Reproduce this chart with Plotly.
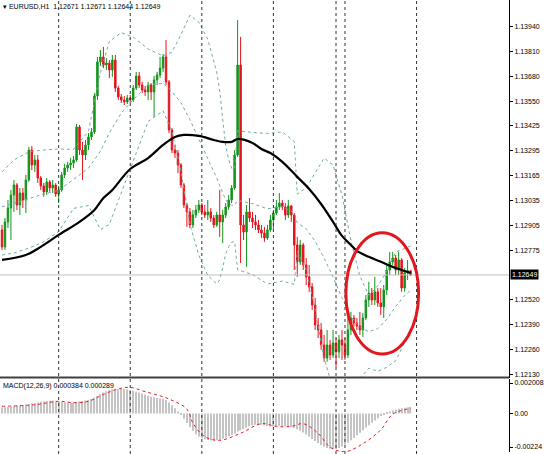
import plotly.graph_objects as go
from plotly.subplots import make_subplots

# ---------------- data (EURUSD H1) ----------------
bar_index = list(range(138))

opens = [1.12883, 1.12795, 1.12925, 1.12997, 1.13065, 1.13117, 1.13013, 1.13075, 1.13039, 1.13143,
         1.13299, 1.13221, 1.13247, 1.13153, 1.13112, 1.13081, 1.13133, 1.13101, 1.13117, 1.13070,
         1.13091, 1.13169, 1.13205, 1.13221, 1.13231, 1.13247, 1.13419, 1.13299, 1.13273, 1.13325,
         1.13367, 1.13393, 1.13580, 1.13757, 1.13783, 1.13741, 1.13751, 1.13715, 1.13767, 1.13621,
         1.13575, 1.13559, 1.13549, 1.13569, 1.13559, 1.13621, 1.13684, 1.13637, 1.13611, 1.13601,
         1.13637, 1.13601, 1.13663, 1.13689, 1.13725, 1.13783, 1.13653, 1.13403, 1.13299, 1.13283,
         1.13221, 1.13117, 1.13013, 1.12977, 1.12909, 1.12961, 1.12987, 1.13013, 1.12977, 1.12961,
         1.12977, 1.12945, 1.12909, 1.12961, 1.12925, 1.12961, 1.13003, 1.13039, 1.13101, 1.13273,
         1.13741, 1.12909, 1.12873, 1.12977, 1.12945, 1.12925, 1.12909, 1.12883, 1.12867, 1.12841,
         1.12883, 1.12935, 1.12971, 1.13003, 1.13023, 1.13003, 1.12961, 1.13008, 1.12961, 1.12805,
         1.12717, 1.12805, 1.12701, 1.12639, 1.12587, 1.12493, 1.12389, 1.12363, 1.12285, 1.12217,
         1.12285, 1.12233, 1.12295, 1.12249, 1.12311, 1.12285, 1.12233, 1.12363, 1.12425, 1.12399,
         1.12384, 1.12363, 1.12425, 1.12519, 1.12555, 1.12519, 1.12561, 1.12503, 1.12483, 1.12571,
         1.12675, 1.12717, 1.12737, 1.12675, 1.12727, 1.12581, 1.12660, 1.12671]

highs = [1.12909, 1.12945, 1.13039, 1.13091, 1.13143, 1.13127, 1.13101, 1.13101, 1.13169, 1.13315,
         1.13320, 1.13273, 1.13273, 1.13164, 1.13127, 1.13153, 1.13143, 1.13143, 1.13127, 1.13112,
         1.13185, 1.13226, 1.13237, 1.13257, 1.13268, 1.13434, 1.13429, 1.13341, 1.13351, 1.13387,
         1.13413, 1.13595, 1.13783, 1.13819, 1.13835, 1.13777, 1.13767, 1.13793, 1.13793, 1.13632,
         1.13590, 1.13580, 1.13585, 1.13585, 1.13637, 1.13705, 1.13705, 1.13653, 1.13632, 1.13653,
         1.13647, 1.13684, 1.13705, 1.13783, 1.13798, 1.13871, 1.13663, 1.13413, 1.13325, 1.13299,
         1.13231, 1.13127, 1.13023, 1.12997, 1.12987, 1.13013, 1.13039, 1.13023, 1.13013, 1.13039,
         1.12997, 1.12961, 1.12977, 1.13091, 1.12987, 1.13023, 1.13065, 1.13117, 1.13299, 1.13975,
         1.13887, 1.12961, 1.13013, 1.13049, 1.12977, 1.12961, 1.12935, 1.12909, 1.12899, 1.12909,
         1.12961, 1.12987, 1.13039, 1.13075, 1.13039, 1.13023, 1.13039, 1.13013, 1.12971, 1.12847,
         1.12831, 1.12815, 1.12737, 1.12701, 1.12607, 1.12529, 1.12425, 1.12399, 1.12337, 1.12363,
         1.12311, 1.12363, 1.12321, 1.12337, 1.12363, 1.12321, 1.12425, 1.12457, 1.12441, 1.12425,
         1.12457, 1.12451, 1.12545, 1.12613, 1.12581, 1.12639, 1.12581, 1.12581, 1.12597, 1.12701,
         1.12769, 1.12769, 1.12753, 1.12769, 1.12737, 1.12685, 1.12727, 1.12671]

lows = [1.12779, 1.12779, 1.12893, 1.12831, 1.12977, 1.12987, 1.12961, 1.12997, 1.12971, 1.13133,
        1.13195, 1.13185, 1.13127, 1.13091, 1.13055, 1.13065, 1.13081, 1.13075, 1.13055, 1.13023,
        1.13081, 1.13153, 1.13185, 1.13195, 1.13205, 1.13237, 1.13273, 1.13143, 1.13247, 1.13299,
        1.13351, 1.13382, 1.13559, 1.13736, 1.13725, 1.13715, 1.13673, 1.13679, 1.13601, 1.13559,
        1.13543, 1.13533, 1.13538, 1.13543, 1.13549, 1.13611, 1.13621, 1.13595, 1.13580, 1.13559,
        1.13559, 1.13471, 1.13637, 1.13673, 1.13705, 1.13637, 1.13387, 1.13283, 1.13257, 1.13179,
        1.13101, 1.12997, 1.12899, 1.12893, 1.12893, 1.12945, 1.12971, 1.12961, 1.12945, 1.12935,
        1.12925, 1.12893, 1.12899, 1.12847, 1.12815, 1.12945, 1.12987, 1.13023, 1.13091, 1.13263,
        1.12711, 1.12831, 1.12691, 1.12925, 1.12893, 1.12883, 1.12867, 1.12841, 1.12821, 1.12831,
        1.12873, 1.12883, 1.12961, 1.12987, 1.12987, 1.12935, 1.12945, 1.12925, 1.12675, 1.12639,
        1.12701, 1.12675, 1.12597, 1.12561, 1.12467, 1.12363, 1.12321, 1.12259, 1.12197, 1.12197,
        1.12207, 1.12217, 1.12171, 1.12217, 1.12207, 1.12207, 1.12217, 1.12337, 1.12379, 1.12363,
        1.12337, 1.12327, 1.12415, 1.12483, 1.12493, 1.12493, 1.12483, 1.12441, 1.12425, 1.12545,
        1.12649, 1.12701, 1.12649, 1.12649, 1.12561, 1.12561, 1.12623, 1.12644]

closes = [1.12795, 1.12925, 1.12997, 1.13065, 1.13117, 1.13013, 1.13075, 1.13039, 1.13143, 1.13299,
          1.13221, 1.13247, 1.13153, 1.13112, 1.13081, 1.13133, 1.13101, 1.13117, 1.13070, 1.13091,
          1.13169, 1.13205, 1.13221, 1.13231, 1.13247, 1.13419, 1.13299, 1.13273, 1.13325, 1.13367,
          1.13393, 1.13580, 1.13757, 1.13783, 1.13741, 1.13751, 1.13715, 1.13767, 1.13621, 1.13575,
          1.13559, 1.13549, 1.13569, 1.13559, 1.13621, 1.13684, 1.13637, 1.13611, 1.13601, 1.13637,
          1.13601, 1.13663, 1.13689, 1.13725, 1.13783, 1.13653, 1.13403, 1.13299, 1.13283, 1.13221,
          1.13117, 1.13013, 1.12977, 1.12909, 1.12961, 1.12987, 1.13013, 1.12977, 1.12961, 1.12977,
          1.12945, 1.12909, 1.12961, 1.12925, 1.12961, 1.13003, 1.13039, 1.13101, 1.13273, 1.13741,
          1.12909, 1.12873, 1.12977, 1.12945, 1.12925, 1.12909, 1.12883, 1.12867, 1.12841, 1.12883,
          1.12935, 1.12971, 1.13003, 1.13023, 1.13003, 1.12961, 1.13008, 1.12961, 1.12805, 1.12717,
          1.12805, 1.12701, 1.12639, 1.12587, 1.12493, 1.12389, 1.12363, 1.12285, 1.12217, 1.12285,
          1.12233, 1.12295, 1.12249, 1.12311, 1.12285, 1.12233, 1.12363, 1.12425, 1.12399, 1.12384,
          1.12363, 1.12425, 1.12519, 1.12555, 1.12519, 1.12561, 1.12503, 1.12483, 1.12571, 1.12675,
          1.12717, 1.12737, 1.12675, 1.12727, 1.12581, 1.12660, 1.12671, 1.12649]

# moving average (black), sampled along the chart
ma_idx = [0, 8, 13, 19, 26, 31, 34, 37, 43, 49, 54, 58, 61, 66, 71, 74, 77, 79, 84, 87, 90, 94,
          99, 103, 107, 111, 114, 117, 119, 123, 128, 131, 134, 137]
ma_val = [1.12727, 1.12753, 1.12795, 1.12857, 1.12925, 1.12987, 1.13049, 1.13091, 1.13200, 1.13257,
          1.13325, 1.13367, 1.13377, 1.13372, 1.13351, 1.13341, 1.13341, 1.13356, 1.13335, 1.13304,
          1.13283, 1.13237, 1.13159, 1.13096, 1.13018, 1.12925, 1.12852, 1.12805, 1.12774, 1.12743,
          1.12711, 1.12691, 1.12675, 1.12659]

# Bollinger bands (20, 2)
bb_idx = [0, 4, 9, 14, 19, 24, 29, 33, 36, 40, 44, 49, 54, 57, 60, 63, 66, 69, 72, 73, 74, 75, 76,
          77, 78, 79, 84, 89, 94, 98, 99, 102, 105, 108, 111, 114, 117, 120, 123, 126, 129, 132,
          135, 137]
bb_upper = [1.13185, 1.13247, 1.13289, 1.13299, 1.13304, 1.13302, 1.13397, 1.13701, 1.13864, 1.13909,
            1.13886, 1.13824, 1.13788, 1.13808, 1.13899, 1.14000, 1.13963, 1.13875, 1.13704, 1.13605,
            1.13460, 1.13321, 1.13249, 1.13204, 1.13201, 1.13399, 1.13390, 1.13385, 1.13393, 1.13343,
            1.13069, 1.13102, 1.13180, 1.13257, 1.13221, 1.13064, 1.12827, 1.12642, 1.12543, 1.12592,
            1.12666, 1.12768, 1.12786, 1.12800]
bb_middle = [1.13003, 1.13023, 1.13049, 1.13070, 1.13089, 1.13148, 1.13204, 1.13293, 1.13388, 1.13491,
             1.13561, 1.13635, 1.13646, 1.13602, 1.13545, 1.13457, 1.13357, 1.13261, 1.13153, 1.13114,
             1.13073, 1.13040, 1.13022, 1.13012, 1.13011, 1.13037, 1.13020, 1.12993, 1.13005, 1.12971,
             1.12920, 1.12889, 1.12824, 1.12737, 1.12639, 1.12529, 1.12434, 1.12375, 1.12354, 1.12370,
             1.12418, 1.12485, 1.12542, 1.12569]
bb_lower = [1.12753, 1.12763, 1.12789, 1.12821, 1.12875, 1.12995, 1.13010, 1.12885, 1.12912, 1.13074,
            1.13237, 1.13447, 1.13503, 1.13396, 1.13191, 1.12913, 1.12752, 1.12646, 1.12603, 1.12623,
            1.12686, 1.12759, 1.12795, 1.12820, 1.12822, 1.12676, 1.12651, 1.12602, 1.12617, 1.12600,
            1.12771, 1.12677, 1.12468, 1.12218, 1.12056, 1.11995, 1.12042, 1.12108, 1.12164, 1.12148,
            1.12169, 1.12203, 1.12297, 1.12338]

# MACD(12,26,9): main line drawn as histogram, signal as dotted line
macd_hist = [0.00035, 0.00037, 0.00038, 0.00040, 0.00042, 0.00043, 0.00045, 0.00048, 0.00052, 0.00056,
             0.00059, 0.00061, 0.00064, 0.00068, 0.00071, 0.00073, 0.00074, 0.00074, 0.00072, 0.00070,
             0.00067, 0.00064, 0.00062, 0.00062, 0.00063, 0.00068, 0.00070, 0.00072, 0.00076, 0.00080,
             0.00084, 0.00092, 0.00102, 0.00112, 0.00122, 0.00130, 0.00135, 0.00139, 0.00141, 0.00142,
             0.00143, 0.00143, 0.00141, 0.00137, 0.00132, 0.00127, 0.00122, 0.00116, 0.00110, 0.00104,
             0.00098, 0.00094, 0.00090, 0.00088, 0.00086, 0.00078, 0.00064, 0.00048, 0.00030, 0.00012,
             -0.00008, -0.00030, -0.00055, -0.00080, -0.00102, -0.00120, -0.00134, -0.00144, -0.00150, -0.00154,
             -0.00156, -0.00157, -0.00156, -0.00152, -0.00147, -0.00140, -0.00132, -0.00124, -0.00116, -0.00105,
             -0.00098, -0.00090, -0.00082, -0.00074, -0.00068, -0.00065, -0.00065, -0.00067, -0.00070, -0.00073,
             -0.00075, -0.00075, -0.00074, -0.00073, -0.00073, -0.00074, -0.00076, -0.00078, -0.00084, -0.00092,
             -0.00100, -0.00110, -0.00122, -0.00135, -0.00148, -0.00160, -0.00172, -0.00183, -0.00193, -0.00200,
             -0.00205, -0.00207, -0.00206, -0.00200, -0.00192, -0.00182, -0.00170, -0.00156, -0.00142, -0.00127,
             -0.00112, -0.00097, -0.00082, -0.00068, -0.00054, -0.00040, -0.00027, -0.00015, -0.00005, 0.00004,
             0.00012, 0.00018, 0.00023, 0.00027, 0.00031, 0.00034, 0.00036, 0.000384]
sig_idx = [0, 11, 19, 24, 29, 34, 39, 43, 48, 53, 57, 62, 64, 68, 73, 80, 87, 92, 97, 101, 106, 110,
           115, 121, 127, 131, 137]
sig_val = [0.00042, 0.00051, 0.00071, 0.00063, 0.00071, 0.00111, 0.00143, 0.00152, 0.00127, 0.00103,
           0.00077, 0.00026, -0.00055, -0.00135, -0.00156, -0.00115, -0.00059, -0.00075, -0.00075,
           -0.00059, -0.00115, -0.00196, -0.00222, -0.00176, -0.00095, -0.00004, 0.000289]

price_ticks = [1.13940, 1.13810, 1.13680, 1.13550, 1.13425, 1.13295, 1.13165, 1.13035,
               1.12905, 1.12775, 1.12520, 1.12390, 1.12260, 1.12130]
price_tick_text = ["1.13940", "1.13810", "1.13680", "1.13550", "1.13425", "1.13295", "1.13165",
                   "1.13035", "1.12905", "1.12775", "1.12520", "1.12390", "1.12260", "1.12130"]
macd_tick_vals = [0.001775, 0.0, -0.00195]
macd_tick_text = ["0.002008", "0.00", "-0.00224"]
last_price = 1.12649
day_breaks = [19, 43, 67, 91, 112, 115, 139]
title_text = "EURUSD,H1  1.12671 1.12671 1.12644 1.12649"
macd_text = "MACD(12,26,9) 0.000384 0.000289"

# ---------------- figure ----------------
W, H = 544, 454
fig = make_subplots(rows=2, cols=1, shared_xaxes=True, vertical_spacing=0)

FONT = "Liberation Sans"
BB_COLOR = "#72a9a9"

for band in (bb_upper, bb_middle, bb_lower):
    fig.add_trace(go.Scatter(x=bb_idx, y=band, mode="lines",
                             line=dict(color=BB_COLOR, width=1, dash="dot"),
                             hoverinfo="skip"), row=1, col=1)

fig.add_trace(go.Candlestick(
    x=bar_index, open=opens, high=highs, low=lows, close=closes,
    increasing=dict(line=dict(color="#12941a", width=1), fillcolor="#12941a"),
    decreasing=dict(line=dict(color="#e5141c", width=1), fillcolor="#e5141c"),
    whiskerwidth=0), row=1, col=1)

fig.add_trace(go.Scatter(x=ma_idx, y=ma_val, mode="lines",
                         line=dict(color="black", width=2.2, shape="spline"),
                         hoverinfo="skip"), row=1, col=1)

fig.add_trace(go.Bar(x=bar_index, y=macd_hist, marker=dict(color="#c4c4c4", line=dict(width=0)),
                     width=0.4), row=2, col=1)
fig.add_trace(go.Scatter(x=sig_idx, y=sig_val, mode="lines",
                         line=dict(color="#e0202a", width=1, dash="dot", shape="spline"),
                         hoverinfo="skip"), row=2, col=1)

# x geometry: 3 px per bar over a 512 px plot
fig.update_xaxes(range=[-0.67, 170.0], showgrid=False, zeroline=False, showticklabels=False,
                 ticks="", rangeslider=dict(visible=False), showline=False)

axis_common = dict(side="right", ticks="outside", ticklen=3, tickcolor="black",
                   showgrid=False, zeroline=False, showline=True, linecolor="black", linewidth=1,
                   tickfont=dict(family=FONT, size=7, color="black"))
fig.update_yaxes(row=1, col=1, range=[1.12113, 1.14079], tickvals=price_ticks,
                 ticktext=price_tick_text, **axis_common)
fig.update_yaxes(row=2, col=1, range=[-0.00224, 0.002008], tickvals=macd_tick_vals,
                 ticktext=macd_tick_text, **axis_common)

shapes = []
for d in day_breaks:
    shapes.append(dict(type="line", xref="x", yref="paper", x0=d, x1=d, y0=0, y1=1,
                       line=dict(color="#333333", width=1, dash="dot")))
shapes.append(dict(type="line", xref="paper", yref="y", x0=0, x1=1, y0=last_price, y1=last_price,
                   line=dict(color="#c0c0c0", width=1)))
shapes.append(dict(type="line", xref="paper", yref="paper", x0=0, x1=1,
                   y0=1 - 377.5 / H, y1=1 - 377.5 / H, line=dict(color="#404040", width=2)))
shapes.append(dict(type="circle", xref="x", yref="y", x0=115.3, x1=139.7, y0=1.12238, y1=1.12869,
                   line=dict(color="#e3171e", width=3)))
fig.update_layout(shapes=shapes)

annotations = [
    dict(text="▾ " + title_text, xref="paper", yref="paper", x=0.0, y=1.0, xanchor="left",
         yanchor="top", showarrow=False, font=dict(family=FONT, size=7, color="black"),
         xshift=1, yshift=-1),
    dict(text=macd_text, xref="paper", yref="y2", x=0.0, y=0.002008, xanchor="left", yanchor="top",
         showarrow=False, font=dict(family=FONT, size=7, color="black"), xshift=1, yshift=-1),
    dict(text="1.12649", xref="paper", yref="y", x=1.0, y=last_price, xanchor="left",
         yanchor="middle", showarrow=False, font=dict(family=FONT, size=7, color="white"),
         bgcolor="black", borderpad=1, xshift=1),
]
fig.update_layout(annotations=annotations)

fig.update_layout(
    width=W, height=H, margin=dict(l=0, r=32, t=0, b=0),
    paper_bgcolor="white", plot_bgcolor="white", showlegend=False,
)
fig.layout.yaxis.domain = [1 - 378 / H, 1.0]
fig.layout.yaxis2.domain = [2 / H, 1 - 379 / H]

fig.write_html("out.html", config={"displayModeBar": False},
               post_script="document.body.style.margin='0';document.body.style.overflow='hidden';")
